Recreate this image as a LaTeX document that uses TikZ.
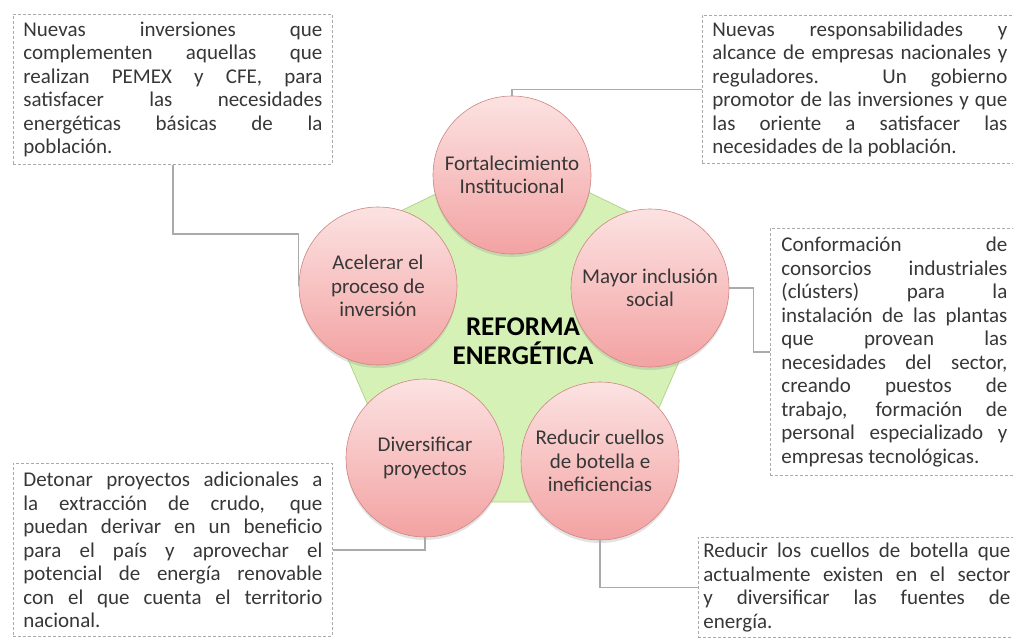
\documentclass[tikz,border=0pt]{standalone}
\usepackage{fontspec}
\setmainfont{Carlito}
\usepackage{tikz}
\usetikzlibrary{
	calc,
	shadows
}
\definecolor{linegray}{RGB}{170,170,170}
\definecolor{txtgray}{RGB}{55,55,55}
\definecolor{pinktop}{RGB}{252,226,226}
\definecolor{pinkbot}{RGB}{243,162,162}
\definecolor{pinkline}{RGB}{205,135,130}
\definecolor{leaf}{RGB}{214,241,182}
\definecolor{leafline}{RGB}{178,212,142}
\tikzset{
	dashbox/.style={
		draw=linegray,
		dash pattern=on 3pt off 2pt,
		line width=0.8pt,
		anchor=north west,
		inner xsep=10pt,
		inner ysep=0pt,
		text=txtgray,
		font={\fontsize{21}{23.5}\selectfont\tolerance=10000\hbadness=10000\hyphenpenalty=10000}
	},
	note/.style={
		dashbox,
		align=justify
	},
	goal/.style={
		circle,
		draw=pinkline,
		line width=0.6pt,
		top color=pinktop,
		bottom color=pinkbot,
		minimum size=158pt,
		inner sep=0pt,
		align=center,
		text=txtgray,
		font=\fontsize{21}{23.5}\selectfont,
		drop shadow={opacity=0.22,shadow xshift=0pt,shadow yshift=-3pt}
	},
	link/.style={
		draw=linegray,
		line width=1.3pt
	}
}
% cajas de la derecha: el borde derecho queda fuera de la pagina
\newcommand{\rtext}[2]{\parbox{#1}{#2}\hspace*{16pt}}

\begin{document}
\begin{tikzpicture}[x=1pt,y=-1pt]
	\useasboundingbox (0,0) rectangle (1013,640);

	% pentagono
	\filldraw[fill=leaf,draw=leafline,line width=0.8pt,rounded corners=6pt]
		(514,156) -- (724,258) -- (618,502) -- (410,502) -- (304,258) -- cycle;

	\node[note,text width=299pt,minimum height=150pt] (d0) at (13,14)
		{Nuevas inversiones que\linebreak complementen aquellas que\linebreak realizan PEMEX y CFE, para\linebreak satisfacer las necesidades\linebreak energéticas básicas de la\linebreak población.};
	\node[dashbox,minimum height=148pt] (d1) at (702,15)
		{\rtext{295pt}{Nuevas responsabilidades y\linebreak alcance de empresas nacionales y\linebreak reguladores. Un gobierno\linebreak promotor de las inversiones y que\linebreak las oriente a satisfacer las\linebreak necesidades de la población.}};
	\node[dashbox,inner xsep=11pt,minimum height=247pt] (d2) at (770,228)
		{\rtext{226pt}{Conformación de\linebreak consorcios industriales\linebreak (clústers) para la\linebreak instalación de las plantas\linebreak que provean las\linebreak necesidades del sector,\linebreak creando puestos de\linebreak trabajo, formación de\linebreak personal especializado y\linebreak empresas tecnológicas.}};
	\node[note,text width=299pt,minimum height=173pt] (d3) at (13,463)
		{Detonar proyectos adicionales a\linebreak la extracción de crudo, que\linebreak puedan derivar en un beneficio\linebreak para el país y aprovechar el\linebreak potencial de energía renovable\linebreak con el que cuenta el territorio\linebreak nacional.};
	\node[dashbox,inner xsep=5pt,minimum height=100pt] (d4) at (698,537)
		{\rtext{307pt}{Reducir los cuellos de botella que\linebreak actualmente existen en el sector\linebreak y diversificar las fuentes de\linebreak energía.}};

	\node[goal] (fort)  at (512,175) {Fortalecimiento\\Institucional};
	\node[goal] (acel)  at (378,286) {Acelerar el\\proceso de\\inversión};
	\node[goal] (mayor) at (650,288) {Mayor inclusión\\social};
	\node[goal] (diver) at (425,458) {Diversificar\\proyectos};
	\node[goal] (reduc) at (600,461) {Reducir cuellos\\de botella e\\ineficiencias};
	\node[align=center,font=\fontsize{27}{28.5}\selectfont\bfseries] (ref) at (523,341) {REFORMA\\ENERGÉTICA};

	\draw[link] (d0.south) |- ($(acel.west)+(0,-52)$) -- (acel.west);
	\draw[link] (d1.west) -| (fort.north);
	\draw[link] (mayor.east) -| ($(mayor.east)!0.6!(d2.west)$) |- (d2.west);
	\draw[link] (diver.south) |- (d3.east);
	\draw[link] (reduc.south) |- (d4.west);
\end{tikzpicture}
\end{document}
